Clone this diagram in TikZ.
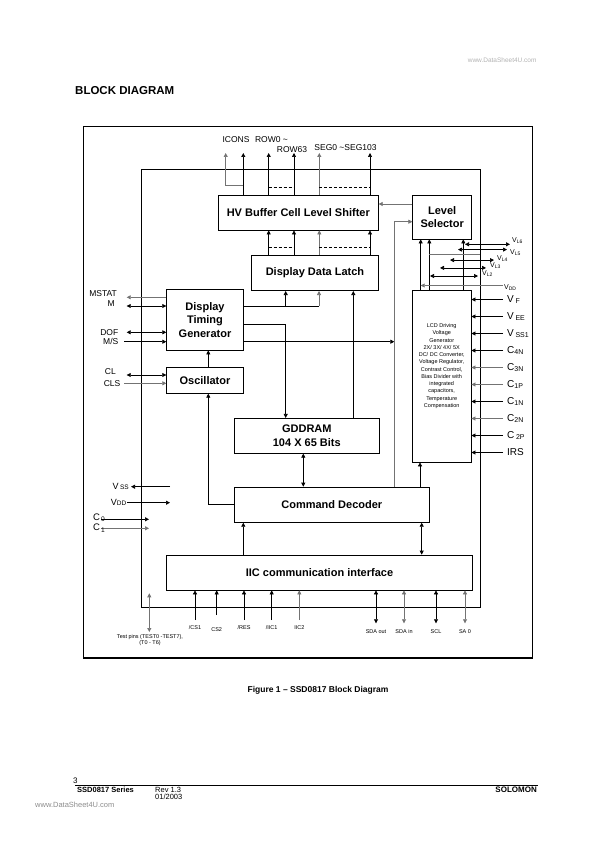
\documentclass[tikz,border=0pt]{standalone}
\usepackage{fontspec}
\setmainfont{Liberation Sans}
\usetikzlibrary{arrows.meta,positioning}

\begin{document}
\begin{tikzpicture}[x=1pt,y=-1pt,
  blk/.style={draw,line width=0.7pt,fill=white,inner sep=1pt,align=center,
              font=\fontsize{11}{13.4}\selectfont\bfseries},
  arr/.style={-{Triangle[length=4pt,width=4pt]},line width=0.7pt},
  darr/.style={{Triangle[length=4pt,width=4pt]}-{Triangle[length=4pt,width=4pt]},line width=0.7pt},
  wire/.style={line width=0.7pt},
  grey/.style={draw=black!55},
  bus/.style={dashed,dash pattern=on 3pt off 2pt,line width=0.7pt},
  sig/.style={font=\fontsize{8.5}{9}\selectfont,inner sep=0pt},
  rlab/.style={font=\fontsize{10}{12}\selectfont,inner sep=0pt},
  vl/.style={font=\fontsize{7}{8}\selectfont,inner sep=0pt},
  pin/.style={font=\fontsize{5.5}{6}\selectfont,inner sep=0pt,align=center}
]
\useasboundingbox (0,0) rectangle (595,842);

\node[anchor=east,font=\fontsize{6.5}{7}\selectfont,text=black!30] (wm) at (540,60) {www.DataSheet4U.com};
\node[anchor=west,inner sep=0pt,font=\fontsize{11.5}{13}\selectfont\bfseries] (title) at (75,91) {BLOCK DIAGRAM};

% chip frames
\draw[line width=0.8pt] (83,126) rectangle (532,658);
\draw[line width=1.6pt] (83,658) -- (532,658);
\draw[line width=0.7pt] (141,169) rectangle (480,607);

% blocks
\node[blk,minimum width=160pt,minimum height=34.7pt] (hv) at (298.3,212.7) {HV Buffer Cell Level Shifter};
\node[blk,minimum width=59pt,minimum height=43.7pt] (lvl) at (442.2,217.2) {Level\\Selector};
\node[blk,minimum width=126.7pt,minimum height=35.3pt] (ddl) at (315,273) {Display Data Latch};
\node[blk,minimum width=76.7pt,minimum height=60.7pt] (dtg) at (205,319.7) {Display\\Timing\\Generator};
\node[blk,minimum width=76.7pt,minimum height=26pt] (osc) at (205,380.3) {Oscillator};
\node[blk,minimum width=145pt,minimum height=35pt] (gdd) at (306.8,435.8) {GDDRAM\\104 X 65 Bits};
\node[blk,minimum width=195pt,minimum height=35.3pt] (cd) at (331.8,504.7) {Command Decoder};
\node[blk,minimum width=305.7pt,minimum height=35pt] (iic) at (319.5,572.5) {IIC communication interface};
\node[blk,minimum width=58.7pt,minimum height=172pt] (lcd) at (441.7,376) {};
\node[inner sep=0pt,align=center,font=\fontsize{5.5}{7.25}\selectfont] (lcdtxt) at (441.7,366)
  {LCD Driving\\Voltage\\Generator\\2X/ 3X/ 4X/ 5X\\DC/ DC Converter,\\Voltage Regulator,\\Contrast Control,\\Bias Divider with\\integrated\\capacitors,\\Temperature\\Compensation};

% HV buffer outputs
\foreach \nm/\xx in {oa/243.3,ob/268.7,oc/294,od/319.3,oe/370}
  \coordinate (\nm) at (\xx,153);
\coordinate (icn) at (225.7,153);
\foreach \nm in {oa,ob,oc,oe}
  \draw[arr] (hv.north -| \nm) -- (\nm);
\draw[arr,grey] (hv.north -| od) -- (od);
\draw[arr,grey] (oa |- 0,185.7) -| (icn);
\draw[bus] (ob |- 0,187) -- (oc |- 0,187);
\draw[bus] (od |- 0,187) -- (oe |- 0,187);
\node[sig] (licons) at (236,139.3) {ICONS};
\node[sig] (lrow) at (271.5,139.3) {ROW0 \textasciitilde};
\node[sig] (lrow63) at (292,150) {ROW63};
\node[sig] (lseg) at (345.5,148) {SEG0 \textasciitilde SEG103};

% latch to buffer
\foreach \nm in {ob,oc,oe}
  \draw[arr] (ddl.north -| \nm) -- (hv.south -| \nm);
\draw[arr,grey] (ddl.north -| od) -- (hv.south -| od);
\draw[bus] (ob |- 0,247.7) -- (oc |- 0,247.7);
\draw[bus] (od |- 0,247.7) -- (oe |- 0,247.7);

% timing generator outputs
\coordinate (la) at (285.7,0);
\coordinate (lb) at (319,0);
\coordinate (lc) at (353.3,0);
\coordinate (cdl) at (394.3,0);
\draw[wire] (dtg.east |- 0,306) -- (lb |- 0,306);
\draw[arr] (la |- 0,306) -- (ddl.south -| la);
\draw[arr,grey] (lb |- 0,306) -- (ddl.south -| lb);
\draw[arr] (dtg.east |- 0,324) -| (gdd.north -| la);
\draw[arr] (dtg.east |- 0,341.7) -- (cdl |- 0,341.7);
\draw[arr] (gdd.north -| lc) -- (ddl.south -| lc);

% command decoder links
\draw[arr,grey] (cd.north -| cdl) |- (lvl.west |- 0,221.7);
\draw[arr,grey] (lvl.west |- 0,204) -- (hv.east |- 0,204);
\draw[arr] (cd.north -| 420,0) -- (lcd.south -| 420,0);
\draw[arr] ([xshift=3.3pt]osc.north) -- ([xshift=3.3pt]dtg.south);
\draw[arr] (cd.west) -| ([xshift=3.3pt]osc.south);
\draw[darr] (gdd.south -| 303.3,0) -- (cd.north -| 303.3,0);
\draw[arr] (iic.north -| 243.3,0) -- (cd.south -| 243.3,0);
\draw[darr] (cd.south -| 421.7,0) -- (iic.north -| 421.7,0);

% level selector supplies
\coordinate (va) at (420.7,0);
\coordinate (vb) at (429.3,0);
\coordinate (vc) at (463.3,0);
\draw[arr] (lcd.north -| va) -- (lvl.south -| va);
\draw[arr] (lcd.north -| vb) -- (lvl.south -| vb);
\draw[arr] (lcd.north -| vc) -- (lvl.south -| vc);
\draw[wire,grey] (vb |- 0,254.8) -- (480,254.8);
\foreach \yy/\xl/\xr/\nm/\lx/\ly in {244.3/465/510/L6/512/240.5,249.6/458/507/L5/510/252.5,
    260.1/450/494/L4/497/258.5,267.9/440/486/L3/490/266,276/430/478/L2/482/273.5}{
  \coordinate (vl\nm) at (\xl,\yy);
  \coordinate (vr\nm) at (\xr,\yy);
  \draw[darr] (vl\nm) -- (vr\nm);
  \node[vl,anchor=west] (t\nm) at (\lx,\ly) {V\textsubscript{\nm}};
}
\coordinate (vdd) at (503,285.5);
\draw[arr,grey] (vdd) -- (vdd -| va);
\node[vl,anchor=west] (tvdd) at (504,288) {V\textsubscript{DD}};

% LCD driver inputs
\foreach \i/\txt/\col in {0/{V\,\textsubscript{F}}/black,1/{V\,\textsubscript{EE}}/black,
    2/{V\,\textsubscript{SS1}}/black,3/{C\textsubscript{4N}}/black,4/{C\textsubscript{3N}}/black!55,
    5/{C\textsubscript{1P}}/black!55,6/{C\textsubscript{1N}}/black,7/{C\textsubscript{2N}}/black!55,
    8/{C\,\textsubscript{2P}}/black,9/{IRS}/black}{
  \coordinate (rp\i) at (503,299.5+17*\i);
  \draw[arr,draw=\col] (rp\i) -- (rp\i -| lcd.east);
  \node[rlab,anchor=west] (rl\i) at ([xshift=4pt]rp\i) {\txt};
}

% timing generator and oscillator pins
\coordinate (mstat) at (126.7,297.3);
\coordinate (msig) at (126.7,306);
\coordinate (dof) at (126.7,332.3);
\coordinate (ms) at (124,341.7);
\coordinate (cl) at (126.7,375);
\coordinate (cls) at (124,383.3);
\draw[arr,grey] (mstat -| dtg.west) -- (mstat);
\draw[darr] (msig) -- (msig -| dtg.west);
\draw[darr] (dof) -- (dof -| dtg.west);
\draw[arr] (ms) -- (ms -| dtg.west);
\draw[darr] (cl) -- (cl -| osc.west);
\draw[arr,grey] (cls) -- (cls -| osc.west);
\node[sig,anchor=east] (tmstat) at (117,293.3) {MSTAT};
\node[sig,anchor=east] (tm) at (115,304) {M};
\node[sig,anchor=east] (tdof) at (118.5,332.3) {DOF};
\node[sig,anchor=east] (tms) at (118.5,341.7) {M/S};
\node[sig,anchor=east] (tcl) at (116,371.7) {CL};
\node[sig,anchor=east] (tcls) at (120.5,383.3) {CLS};

% power and capacitor pins
\coordinate (vssa) at (170,486.7);
\coordinate (vssb) at (131,486.7);
\coordinate (vdda) at (127.3,502.7);
\coordinate (vddb) at (170,502.7);
\coordinate (cza) at (101,519.3);
\coordinate (czb) at (149,519.3);
\coordinate (coa) at (101,528.3);
\coordinate (cob) at (149,528.3);
\draw[arr] (vssa) -- (vssb);
\draw[arr] (vdda) -- (vddb);
\draw[arr] (cza) -- (czb);
\draw[arr,grey] (coa) -- (cob);
\node[anchor=east,inner sep=0pt,font=\fontsize{9}{10}\selectfont] (tvss) at (129,486.7) {V\,{\fontsize{6.5}{7}\selectfont SS}};
\node[anchor=east,inner sep=0pt,font=\fontsize{9}{10}\selectfont] (tvdd2) at (126.5,502.7) {V{\fontsize{6.5}{7}\selectfont DD}};
\node[anchor=west,inner sep=0pt,font=\fontsize{9.5}{10}\selectfont] (tc0) at (93,517.5) {C\textsubscript{\,0}};
\node[anchor=west,inner sep=0pt,font=\fontsize{9.5}{10}\selectfont] (tc1) at (93,528) {C\textsubscript{\,1}};

% interface pins
\coordinate (tp) at (149.3,632);
\draw[darr,grey] (tp |- 0,593.3) -- (tp);
\node[pin] (ttp) at (150,640.5) {Test pins (TEST0 -TEST7),\\(T0 - T6)};
\foreach \xx/\yy/\ly/\txt/\col [count=\i] in {195/620/628/{/CS1}/black,216.7/615/630/CS2/black,
    244/620/628/{/RES}/black,271.7/620/628/{/IIC1}/black,299.3/620/628/IIC2/black!55}{
  \coordinate (ip\i) at (\xx,\yy);
  \draw[arr,draw=\col] (ip\i) -- (ip\i |- iic.south);
  \node[pin] (il\i) at (\xx,\ly) {\txt};
}
\foreach \xx/\txt/\col [count=\i] in {376/SDA out/black,404/SDA in/black!55,436/SCL/black,465/SA 0/black!55}{
  \coordinate (sp\i) at (\xx,623.3);
  \draw[darr,draw=\col] (sp\i) -- (sp\i |- iic.south);
  \node[pin] (sl\i) at (\xx,632) {\txt};
}

% caption and footer
\node[font=\fontsize{8.5}{10}\selectfont\bfseries] (cap) at (318,690) {Figure 1 -- SSD0817 Block Diagram};
\node[anchor=west,inner sep=0pt,font=\fontsize{8}{9}\selectfont] (pg) at (73,781) {3};
\draw[line width=0.8pt] (75,785) -- (538,785);
\node[anchor=west,inner sep=0pt,font=\fontsize{7.5}{9}\selectfont\bfseries] (ser) at (77,789.5) {SSD0817 Series};
\node[anchor=west,inner sep=0pt,font=\fontsize{7.5}{9}\selectfont] (rev) at (155,789.5) {Rev 1.3};
\node[anchor=west,inner sep=0pt,font=\fontsize{7.5}{9}\selectfont] (date) at (155,797) {01/2003};
\node[anchor=east,inner sep=0pt,font=\fontsize{8}{9}\selectfont\bfseries] (sol) at (537,789.5) {SOLOMON};
\node[anchor=west,inner sep=0pt,font=\fontsize{7.5}{9}\selectfont,text=black!45] (wm2) at (35,805) {www.DataSheet4U.com};
\end{tikzpicture}
\end{document}
